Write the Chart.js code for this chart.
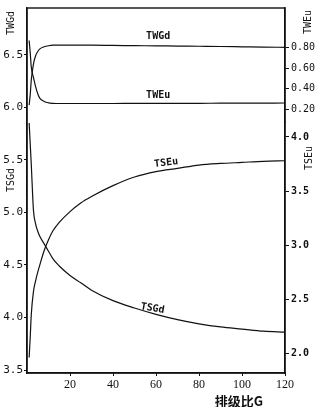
<!DOCTYPE html>
<html>
<head>
<meta charset="utf-8">
<script src="https://cdn.jsdelivr.net/npm/chart.js@4"></script>
<style>
  body { margin: 0; background: #fff; }
  canvas { display: block; }
</style>
</head>
<body>
<canvas id="myChart" width="321" height="407"></canvas>
<script>
// grade ratio G
const G = [1, 1.5, 2, 3, 4, 5, 6, 8, 10, 12, 15, 20, 25, 30, 40, 50, 60, 70, 80, 90, 100, 110, 120];

const TWGd = [6.02, 6.12, 6.26, 6.41, 6.49, 6.53, 6.555, 6.575, 6.585, 6.59, 6.59, 6.59, 6.59, 6.59, 6.588, 6.586, 6.584, 6.582, 6.58, 6.578, 6.575, 6.572, 6.57];
const TWEu = [0.87, 0.75, 0.61, 0.51, 0.42, 0.35, 0.305, 0.275, 0.262, 0.257, 0.255, 0.255, 0.255, 0.255, 0.255, 0.256, 0.256, 0.257, 0.257, 0.258, 0.258, 0.259, 0.26];
const TSGd = [5.85, 5.65, 5.45, 5.02, 4.89, 4.82, 4.77, 4.70, 4.63, 4.56, 4.49, 4.40, 4.33, 4.26, 4.16, 4.09, 4.03, 3.98, 3.94, 3.91, 3.89, 3.87, 3.86];
const TSEu = [1.96, 2.15, 2.36, 2.57, 2.67, 2.75, 2.82, 2.95, 3.05, 3.13, 3.21, 3.31, 3.39, 3.45, 3.55, 3.63, 3.68, 3.71, 3.74, 3.755, 3.765, 3.775, 3.78];

const xTicks = [20, 40, 60, 80, 100, 120];
const gdTicks = [3.5, 4.0, 4.5, 5.0, 5.5, 6.0, 6.5];
const twEuTicks = [0.20, 0.40, 0.60, 0.80];
const tsEuTicks = [2.0, 2.5, 3.0, 3.5, 4.0];

function pts(ys) {
  return G.map((g, i) => ({ x: g, y: ys[i] }));
}

function line(label, ys, axis) {
  return {
    label: label,
    data: pts(ys),
    yAxisID: axis,
    borderColor: "#111",
    borderWidth: 1.2,
    pointRadius: 0,
    fill: false,
    cubicInterpolationMode: "monotone",
  };
}

const monoFont = { family: "DejaVu Sans Mono", size: 11 };

// curve names, titles and the frame
const labelsPlugin = {
  id: "labels",
  afterDraw(chart) {
    const ctx = chart.ctx;
    const a = chart.chartArea;
    const s = chart.scales;
    ctx.save();
    ctx.strokeStyle = "#111";
    ctx.lineWidth = 1.4;
    ctx.strokeRect(a.left, a.top, a.right - a.left, a.bottom - a.top);

    ctx.fillStyle = "#111";
    ctx.font = "bold 10px 'DejaVu Sans Mono'";
    ctx.textAlign = "center";
    ctx.textBaseline = "bottom";
    const names = [
      ["TWGd", 61, 6.585, "y", -4, 0],
      ["TWEu", 61, 0.256, "y2", -3, 0],
      ["TSEu", 65, 3.695, "y3", -2, -0.12],
      ["TSGd", 58, 4.04, "y", 0, 0.17],
    ];
    names.forEach(n => {
      const px = s.x.getPixelForValue(n[1]);
      const py = s[n[3]].getPixelForValue(n[2]) + n[4];
      ctx.save();
      ctx.translate(px, py);
      ctx.rotate(n[5]);
      ctx.fillText(n[0], 0, 0);
      ctx.restore();
    });

    ctx.font = "10px 'DejaVu Sans Mono'";
    ctx.textBaseline = "middle";
    const titles = [["TWGd", 11.5, 23], ["TSGd", 11.5, 180], ["TWEu", 308, 22], ["TSEu", 309, 158]];
    titles.forEach(t => {
      ctx.save();
      ctx.translate(t[1], t[2]);
      ctx.rotate(-Math.PI / 2);
      ctx.fillText(t[0], 0, 0);
      ctx.restore();
    });

    ctx.font = "bold 13px 'Noto Sans CJK SC'";
    ctx.textAlign = "right";
    ctx.textBaseline = "alphabetic";
    ctx.fillText("排级比G", 263, 406);
    ctx.restore();
  },
};

new Chart(document.getElementById("myChart"), {
  type: "line",
  data: {
    datasets: [
      line("TWGd", TWGd, "y"),
      line("TWEu", TWEu, "y2"),
      line("TSGd", TSGd, "y"),
      line("TSEu", TSEu, "y3"),
    ],
  },
  options: {
    responsive: false,
    animation: false,
    layout: { padding: { top: 5, left: 0, right: 0, bottom: 0 } },
    plugins: { legend: { display: false }, tooltip: { enabled: false } },
    scales: {
      x: {
        type: "linear",
        min: 0,
        max: 120,
        afterBuildTicks: sc => { sc.ticks = xTicks.map(v => ({ value: v })); },
        afterFit: sc => { sc.height = 34; },
        grid: { drawOnChartArea: false, tickLength: 3, color: "#111" },
        border: { color: "#111", width: 1.4 },
        ticks: { color: "#111", padding: 2, maxRotation: 0, font: { family: "Liberation Serif", size: 12 } },
      },
      y: {
        position: "left",
        min: 3.472,
        max: 6.944,
        afterBuildTicks: sc => { sc.ticks = gdTicks.map(v => ({ value: v })); },
        afterFit: sc => { sc.width = 27; },
        grid: { drawOnChartArea: false, tickLength: 3, color: "#111" },
        border: { color: "#111", width: 1.4 },
        ticks: { color: "#111", padding: 1, font: monoFont, callback: v => v.toFixed(1) },
      },
      y2: {
        position: "right",
        stack: "right",
        stackWeight: 115,
        min: 0.074,
        max: 1.187,
        afterBuildTicks: sc => { sc.ticks = twEuTicks.map(v => ({ value: v })); },
        afterFit: sc => { sc.width = 36; },
        grid: { drawOnChartArea: false, tickLength: 4, color: "#111" },
        border: { color: "#111", width: 1.4 },
        ticks: { color: "#111", padding: 2, font: { family: "DejaVu Sans Mono", size: 10 }, callback: v => v.toFixed(2) },
      },
      y3: {
        position: "right",
        stack: "right",
        stackWeight: 253,
        min: 1.817,
        max: 4.138,
        afterBuildTicks: sc => { sc.ticks = tsEuTicks.map(v => ({ value: v })); },
        afterFit: sc => { sc.width = 36; },
        grid: { drawOnChartArea: false, tickLength: 4, color: "#111" },
        border: { color: "#111", width: 1.4 },
        ticks: { color: "#111", padding: 2, font: { family: "DejaVu Sans Mono", size: 10, weight: "bold" }, callback: v => v.toFixed(1) },
      },
    },
  },
  plugins: [labelsPlugin],
});
</script>
</body>
</html>
